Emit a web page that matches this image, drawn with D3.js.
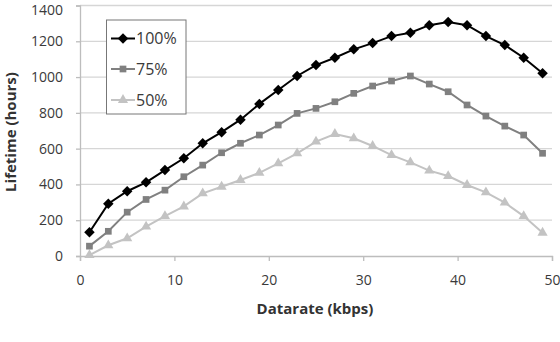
<!DOCTYPE html>
<html><head><meta charset="utf-8">
<script src="https://cdn.jsdelivr.net/npm/d3@7"></script>
<style>body{margin:0;background:#fff;} svg{display:block;}</style>
</head><body>
<script>
const datarates = [1,3,5,7,9,11,13,15,17,19,21,23,25,27,29,31,33,35,37,39,41,43,45,47,49];
const series100 = [133,292,362,412,480,546,630,692,762,850,928,1006,1067,1108,1155,1190,1229,1248,1290,1308,1290,1229,1179,1108,1021];
const series75  = [55,138,245,316,368,443,508,577,630,676,732,797,825,862,909,950,978,1006,961,918,844,782,726,676,574];
const series50  = [5,60,99,164,223,277,350,387,425,465,518,574,639,682,658,615,564,523,477,447,397,356,298,223,130];
const seriesNames = ["100%","75%","50%"];
const xTicks = [0,10,20,30,40,50];
const yTicks = [0,200,400,600,800,1000,1200,1400];

const W=560,H=342;
const svg=d3.select("body").append("svg").attr("width",W).attr("height",H);
const x=d3.scaleLinear().domain([0,50]).range([80,552]);
const y=d3.scaleLinear().domain([0,1400]).range([256,5.5]);
const font="'Open Sans', 'Noto Sans', sans-serif";

// gridlines
svg.append("g").selectAll("line").data(yTicks.slice(1)).join("line")
  .attr("x1",x(0)).attr("x2",x(50)).attr("y1",d=>y(d)).attr("y2",d=>y(d))
  .attr("stroke","#d6d6d6").attr("stroke-width",1.3);

// axes
const xAxis=svg.append("g").attr("transform",`translate(0,${y(0)})`)
  .call(d3.axisBottom(x).tickValues(xTicks).tickSize(5).tickPadding(14).tickFormat(d3.format("d")));
const yAxis=svg.append("g").attr("transform",`translate(${x(0)},0)`)
  .call(d3.axisLeft(y).tickValues(yTicks).tickSize(4).tickPadding(13).tickFormat(d3.format("d")));
[xAxis,yAxis].forEach(a=>{
  a.selectAll("path,line").attr("stroke","#bdbdbd").attr("stroke-width",1.3);
  a.selectAll("text").attr("font-family",font).attr("font-size",14).attr("fill","#3a3a3a");
});
// keep the top label inside the frame
yAxis.selectAll(".tick").filter(d=>d===1400).select("text").attr("dy","0.66em");

// titles
svg.append("text").attr("x",315).attr("y",314).attr("text-anchor","middle")
  .attr("font-family",font).attr("font-size",15).attr("font-weight","bold").attr("fill","#333")
  .text("Datarate (kbps)");
svg.append("text").attr("transform","translate(16,132) rotate(-90)").attr("text-anchor","middle")
  .attr("font-family",font).attr("font-size",15).attr("font-weight","bold").attr("fill","#333")
  .text("Lifetime (hours)");

const styles=[
  {vals:series100,color:"#000000",sym:d3.symbolSquare,size:55,rot:45},
  {vals:series75,color:"#808080",sym:d3.symbolSquare,size:45,rot:0},
  {vals:series50,color:"#c3c3c3",sym:d3.symbolTriangle,size:45,rot:0}
];
const line=d3.line().x(d=>x(d[0])).y(d=>y(d[1]));
styles.slice().reverse().forEach(s=>{
  const pts=datarates.map((d,i)=>[d,s.vals[i]]);
  svg.append("path").datum(pts).attr("d",line).attr("fill","none")
    .attr("stroke",s.color).attr("stroke-width",2);
  svg.append("g").selectAll("path").data(pts).join("path")
    .attr("transform",d=>`translate(${x(d[0])},${y(d[1])}) rotate(${s.rot})`)
    .attr("d",d3.symbol().type(s.sym).size(s.size)).attr("fill",s.color);
});

// legend
const lg=svg.append("g");
lg.append("rect").attr("x",106.5).attr("y",20).attr("width",79.5).attr("height",94)
  .attr("fill","#fff").attr("stroke","#777").attr("stroke-width",1);
const ly=[38.5,69,100];
styles.forEach((s,i)=>{
  lg.append("line").attr("x1",111).attr("x2",135).attr("y1",ly[i]).attr("y2",ly[i])
    .attr("stroke",s.color).attr("stroke-width",2);
  lg.append("path").attr("transform",`translate(123,${ly[i]}) rotate(${s.rot})`)
    .attr("d",d3.symbol().type(s.sym).size(s.size)).attr("fill",s.color);
  lg.append("text").attr("x",136).attr("y",ly[i]).attr("dy","0.36em")
    .attr("font-family",font).attr("font-size",16).attr("fill","#3a3a3a").text(seriesNames[i]);
});
</script>
</body></html>
